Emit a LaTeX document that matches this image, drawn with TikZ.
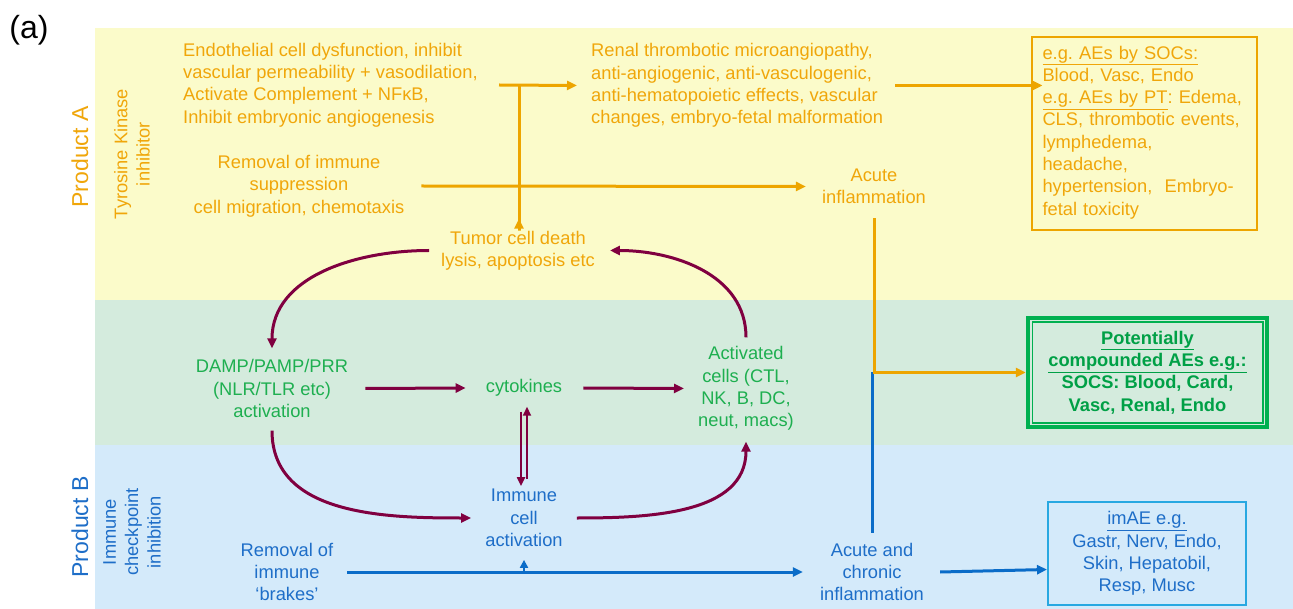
\documentclass[tikz,border=0pt]{standalone}
\usepackage{fontspec}
\setmainfont{Liberation Sans}
\usetikzlibrary{arrows.meta,calc}
\definecolor{otext}{RGB}{240,166,10}
\definecolor{oline}{RGB}{237,165,0}
\definecolor{gtext}{RGB}{30,175,80}
\definecolor{gboxtext}{RGB}{0,160,70}
\definecolor{gborder}{RGB}{0,176,80}
\definecolor{btext}{RGB}{30,110,200}
\definecolor{bline}{RGB}{10,108,200}
\definecolor{purp}{RGB}{128,0,64}
\definecolor{imaeborder}{RGB}{40,168,225}
\definecolor{yband}{RGB}{251,251,202}
\definecolor{gband}{RGB}{212,235,221}
\definecolor{bband}{RGB}{212,234,250}
\newcommand\mainfs{\fontsize{18.3}{22.3}\selectfont}
\newcommand\bigfs{\fontsize{23}{26}\selectfont}
\frenchspacing
\begin{document}
\begin{tikzpicture}[x=1pt,y=-1pt,
  txt/.style={font=\mainfs, inner sep=0pt, align=center},
  otxt/.style={txt, text=otext},
  gtxt/.style={txt, text=gtext},
  btxt/.style={txt, text=btext},
  tip/.style={-{Triangle[length=10pt,width=9pt]}},
  oarr/.style={draw=oline, line width=3pt, tip},
  oln/.style={draw=oline, line width=3pt},
  barr/.style={draw=bline, line width=3pt, tip},
  bln/.style={draw=bline, line width=3pt},
  parr/.style={draw=purp, line width=3pt, tip},
  pthin/.style={draw=purp, line width=2pt, -{Triangle[length=9pt,width=8pt]}}
]
\useasboundingbox (0,0) rectangle (1293,609);
\fill[white] (0,0) rectangle (1293,609);
% bands
\fill[yband] (95,28) rectangle (1293,300);
\fill[gband] (95,300) rectangle (1293,445);
\fill[bband] (95,445) rectangle (1293,609);

\node[inner sep=0pt, font=\fontsize{32}{34}\selectfont] (lab) at (29,30) {(a)};

% side labels
\node[otxt, rotate=90, font=\bigfs] (pA) at (80,157) {Product A};
\node[otxt, rotate=90] (tki) at (132,154) {Tyrosine Kinase\\inhibitor};
\node[btxt, rotate=90, font=\bigfs] (pB) at (80,527) {Product B};
\node[btxt, rotate=90] (ici) at (132,532) {Immune\\checkpoint\\inhibition};

% product A texts
\node[otxt, align=left, anchor=west] (endo) at (183,85)
  {Endothelial cell dysfunction, inhibit\\vascular permeability + vasodilation,\\Activate Complement + NFκB,\\Inhibit embryonic angiogenesis};
\node[otxt, align=left, anchor=west] (renal) at (591,85.5)
  {Renal thrombotic microangiopathy,\\anti-angiogenic, anti-vasculogenic,\\anti-hematopoietic effects, vascular\\changes, embryo-fetal malformation};
\node[otxt, draw=oline, line width=2pt, text width=203pt, align=left, inner xsep=11pt, minimum height=193pt] (aebox) at (1144,133.5)
  {\underline{e.g. AEs by SOCs:}\\Blood, Vasc, Endo\\\underline{e.g. AEs by PT}: Edema,\\CLS, thrombotic events,\\lymphedema,\\headache,\\hypertension,\ \ Embryo-\\fetal toxicity\rule[-6pt]{0pt}{1pt}};
\node[otxt] (rem1) at (299,186) {Removal of immune\\suppression\\cell migration, chemotaxis};
\node[otxt] (acuteA) at (874,186.5) {Acute\\inflammation};
\node[otxt] (tumor) at (518,250.5) {Tumor cell death\\lysis, apoptosis etc};

% green band
\node[gtxt] (damp) at (272,388.5) {DAMP/PAMP/PRR\\(NLR/TLR etc)\\activation};
\node[gtxt] (cyto) at (524,388) {cytokines};
\node[gtxt] (act) at (746,388.5) {Activated\\cells (CTL,\\NK, B, DC,\\neut, macs)};
\node[txt, text=gboxtext, font=\mainfs\bfseries, draw=gborder, line width=4.5pt, minimum width=239pt, minimum height=109pt] (green) at (1147.5,372.5)
  {\underline{Potentially}\\\underline{compounded AEs e.g.:}\\SOCS: Blood, Card,\\Vasc, Renal, Endo};
\draw[gborder, line width=1.5pt] ([xshift=6.5pt,yshift=-6.5pt]green.north west) rectangle ([xshift=-6.5pt,yshift=6.5pt]green.south east);

% blue band
\node[btxt] (imm) at (524,518) {Immune\\cell\\activation};
\node[btxt] (rem2) at (287,572) {Removal of\\immune\\‘brakes’};
\node[btxt] (acuteB) at (872,572) {Acute and\\chronic\\inflammation};
\node[btxt, draw=imaeborder, line width=2pt, minimum width=198pt, minimum height=103pt] (imae) at (1147,553.5)
  {\underline{imAE e.g.}\\Gastr, Nerv, Endo,\\Skin, Hepatobil,\\Resp, Musc};

% orange connectors
\coordinate (s1) at (499,85);
\coordinate (j1) at (519,85);
\draw[oarr] (s1) -- ([xshift=-14pt]renal.west);
\draw[oarr] (j1) -- (j1 |- tumor.north) -- ++(0,-12);
\draw[oarr] ([xshift=12pt]renal.east) -- ([xshift=12pt]renal.east -| aebox.west);
\draw[oarr] ([xshift=17pt]rem1.east) -- ([xshift=-16pt]acuteA.west);

% blue connectors
\draw[bln] ([yshift=10pt]acuteB.north) -- (acuteB.north |- green.west);
\draw[oarr] ([yshift=-14pt]acuteA.south) |- (green.west);
\draw[barr] ([xshift=14pt]rem2.east) -- ([xshift=-17pt]acuteB.west);
\draw[draw=bline, line width=2pt, -{Triangle[length=8pt,width=8pt]}] (imm.south |- rem2.east) -- ([yshift=-13pt]imm.south);
\draw[barr] ([xshift=16pt]acuteB.east) -- ([yshift=-16pt]imae.west);

% purple cycle
\draw[parr] ([xshift=-12pt]tumor.west) to[out=180,in=90] ([yshift=11pt]damp.north);
\draw[parr] ([yshift=9pt]act.north) to[out=90,in=0] ([xshift=15pt]tumor.east);
\draw[parr] ([yshift=-13pt]damp.south) to[out=-90,in=180] ([xshift=-14pt]imm.west);
\draw[parr] ([xshift=14pt]imm.east) to[out=0,in=-90] ([yshift=-11pt]act.south);
\draw[parr] ([xshift=17pt]damp.east) -- ([xshift=-20pt]cyto.west);
\draw[parr] ([xshift=21pt]cyto.east) -- ([xshift=-14pt]act.west);
\draw[pthin] ([xshift=-3pt,yshift=-15pt]cyto.south) -- ([xshift=-3pt,yshift=3pt]imm.north);
\draw[pthin] ([xshift=3pt,yshift=10pt]imm.north) -- ([xshift=3pt,yshift=-10pt]cyto.south);
\end{tikzpicture}
\end{document}
